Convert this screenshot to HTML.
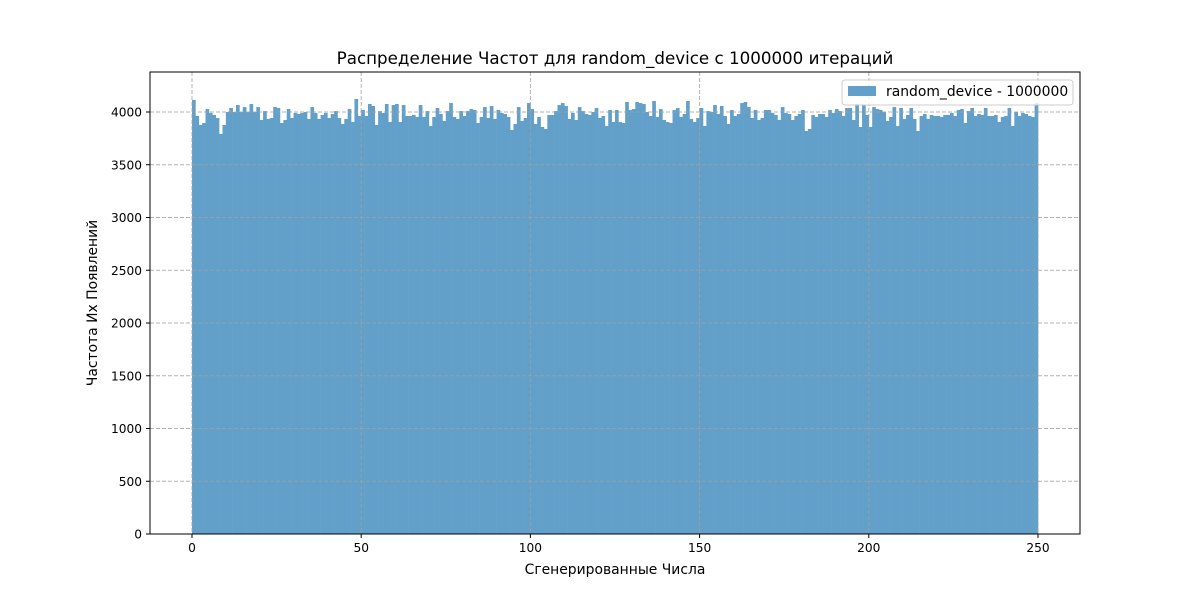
<!DOCTYPE html>
<html><head><meta charset="utf-8"><style>
body{margin:0;background:#fff;}
svg{display:block;font-family:"DejaVu Sans","Liberation Sans",sans-serif;}
</style></head><body>
<svg id="chart" width="1200" height="600">
<rect width="1200" height="600" fill="#fff"/>
<text x="615" y="64" text-anchor="middle" font-size="16.7">Распределение Частот для random_device с 1000000 итераций</text>
<text x="615" y="574" text-anchor="middle" font-size="13.9">Сгенерированные Числа</text>
<text transform="translate(97,303) rotate(-90)" text-anchor="middle" font-size="13.9">Частота Их Появлений</text>
<g id="bars"></g>
<g id="grid"></g>
<g id="ticks"></g>
<rect x="150" y="72" width="930" height="462" fill="none" stroke="#000" stroke-width="1"/>
<g>
<rect x="842" y="80" width="231" height="25" rx="3" fill="rgba(255,255,255,0.8)" stroke="#ccc"/>
<rect x="848" y="86" width="28" height="10" fill="#62a0ca"/>
<text x="886" y="96" font-size="13.9">random_device - 1000000</text>
</g>
</svg>
<script>
const binStart=0, binWidth=1;
const counts=[4114,3962,3877,3896,4028,3991,3972,3943,3792,3877,4000,4038,4000,4066,4000,4047,4000,4076,4000,4047,3924,4009,3934,3943,4047,4038,3896,3924,4028,3943,3991,3981,3991,4000,3934,4047,3991,3934,3972,3991,3943,3981,4009,3943,3886,3934,4028,3905,4123,3962,4019,3962,4076,4057,3877,4009,3991,4076,3905,4066,
4076,3905,4066,3962,3962,3972,3953,4066,3953,4009,3867,3953,4038,3981,3915,4009,4085,3953,3934,4009,3962,4009,4028,4019,3896,3953,4047,3943,4057,3934,4019,3991,3981,3953,3830,3886,4047,3915,3943,4085,4028,3886,3953,3858,3839,3972,3972,4009,4066,4085,4057,3934,3991,3924,4047,4009,3981,3972,4000,4038,3943,3962,3867,4019,3905,
4019,3905,3896,4095,4019,4028,4095,4085,4076,4000,3962,4104,3953,4028,3924,3905,3896,4019,4038,3953,3981,4104,3934,3905,3943,4038,3867,4009,4000,4066,3981,4057,3962,3886,4019,3962,3981,4085,4095,4047,3943,4019,3924,3943,4019,4019,3991,3972,3924,4047,3991,3981,3924,3962,3981,4019,3820,3839,3972,3953,3981,3981,3953,4019,
3991,4028,4009,3962,4038,4038,3924,4076,3858,4066,3972,3858,4047,4028,4019,4000,3915,3953,4047,3867,4038,3934,3972,4038,3934,3820,3962,3981,3934,3972,3962,3962,3953,3972,3972,3991,3962,4019,4028,3896,4009,4038,3962,3981,3972,4038,3962,3962,3972,3905,3953,3962,4038,3867,4000,3962,3991,3981,3962,3953,4085];
const xTicks=[0,50,100,150,200,250];
const yTicks=[0,500,1000,1500,2000,2500,3000,3500,4000];
const NS="http://www.w3.org/2000/svg";
const X=v=>192+(v-0)*(1038-192)/250;
const Y=v=>534-v*(534-112)/4000;
const bars=document.getElementById('bars');
counts.forEach((c,i)=>{
 const r=document.createElementNS(NS,'rect');
 const x0=X(binStart+i*binWidth), x1=X(binStart+(i+1)*binWidth);
 r.setAttribute('x',x0);r.setAttribute('width',x1-x0+0.3);
 r.setAttribute('y',Y(c));r.setAttribute('height',Y(0)-Y(c));
 r.setAttribute('fill','#62a0ca');
 
 
 bars.appendChild(r);
});
const grid=document.getElementById('grid'), ticks=document.getElementById('ticks');
function line(g,x1,y1,x2,y2,st,dash){const l=document.createElementNS(NS,'line');l.setAttribute('x1',x1);l.setAttribute('y1',y1);l.setAttribute('x2',x2);l.setAttribute('y2',y2);l.setAttribute('stroke',st);if(dash)l.setAttribute('stroke-dasharray',dash);g.appendChild(l);return l;}
function text(g,x,y,s,anchor){const t=document.createElementNS(NS,'text');t.setAttribute('x',x);t.setAttribute('y',y);t.setAttribute('font-size','12.2');t.setAttribute('text-anchor',anchor);t.textContent=s;g.appendChild(t);return t;}
xTicks.forEach(v=>{
 const gl=line(grid,X(v),72,X(v),534,'rgba(160,160,160,0.8)','4,2');
 
 
 line(ticks,X(v),534,X(v),538,'#000');
 const t=text(ticks,X(v),552,String(v),'middle');
 
 
});
yTicks.forEach(v=>{
 const gl=line(grid,150,Y(v),1080,Y(v),'rgba(160,160,160,0.8)','4,2');
 
 
 line(ticks,146,Y(v),150,Y(v),'#000');
 const t=text(ticks,142,Y(v)+4.5,String(v),'end');
 
 
});
</script>
</body></html>
